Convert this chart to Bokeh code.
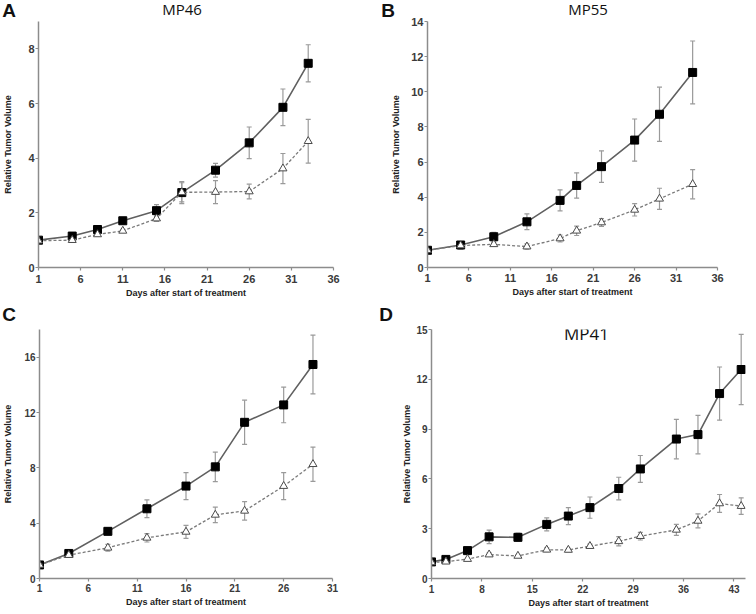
from bokeh.plotting import figure
from bokeh.models import Range1d, FixedTicker, Label, Whisker, TeeHead, ColumnDataSource, Div
from bokeh.layouts import column, row
from bokeh.embed import file_html
from bokeh.resources import INLINE

# ---------------- data ----------------
# Panel A  (MP46)
days_a = [1, 5, 8, 11, 15, 18, 22, 26, 30, 33]
control_a = [1.0, 1.15, 1.39, 1.71, 2.08, 2.74, 3.56, 4.56, 5.86, 7.47]
control_a_err = [0.03, 0.05, 0.06, 0.12, 0.22, 0.4, 0.25, 0.58, 0.67, 0.68]
treated_a = [0.98, 1.0, 1.21, 1.34, 1.79, 2.75, 2.76, 2.78, 3.62, 4.62]
treated_a_err = [0.03, 0.04, 0.05, 0.06, 0.1, 0.35, 0.42, 0.27, 0.55, 0.8]

# Panel B  (MP55)
days_b = [1, 5, 9, 13, 17, 19, 22, 26, 29, 33]
control_b = [0.98, 1.28, 1.75, 2.6, 3.82, 4.67, 5.74, 7.25, 8.72, 11.1]
control_b_err = [0.05, 0.1, 0.25, 0.45, 0.6, 0.72, 0.9, 1.2, 1.54, 1.79]
treated_b = [0.98, 1.25, 1.32, 1.19, 1.65, 2.09, 2.56, 3.28, 3.91, 4.74]
treated_b_err = [0.05, 0.2, 0.1, 0.15, 0.2, 0.27, 0.22, 0.35, 0.6, 0.83]

# Panel C  (MP34)
days_c = [1, 4, 8, 12, 16, 19, 22, 26, 29]
control_c = [0.98, 1.81, 3.41, 5.04, 6.68, 8.07, 11.29, 12.55, 15.47]
control_c_err = [0.03, 0.1, 0.24, 0.64, 0.98, 1.07, 1.6, 1.29, 2.13]
treated_c = [0.98, 1.69, 2.22, 2.94, 3.37, 4.6, 4.89, 6.68, 8.26]
treated_c_err = [0.03, 0.1, 0.24, 0.3, 0.47, 0.56, 0.67, 0.98, 1.24]

# Panel D  (MP41)
days_d = [1, 3, 6, 9, 13, 17, 20, 23, 27, 30, 35, 38, 41, 44]
control_d = [1.0, 1.15, 1.68, 2.51, 2.48, 3.26, 3.76, 4.27, 5.42, 6.6, 8.4, 8.67, 11.14, 12.59]
control_d_err = [0.04, 0.07, 0.1, 0.41, 0.25, 0.39, 0.51, 0.64, 0.68, 0.81, 1.19, 1.16, 1.6, 2.12]
treated_d = [0.97, 1.01, 1.17, 1.44, 1.36, 1.73, 1.72, 1.95, 2.24, 2.55, 2.93, 3.47, 4.52, 4.36]
treated_d_err = [0.03, 0.04, 0.06, 0.1, 0.07, 0.12, 0.1, 0.12, 0.28, 0.23, 0.33, 0.42, 0.54, 0.5]

# axis ticks
xticks_a = [1, 6, 11, 16, 21, 26, 31, 36]
yticks_a = [0, 2, 4, 6, 8]
xticks_b = [1, 6, 11, 16, 21, 26, 31, 36]
yticks_b = [0, 2, 4, 6, 8, 10, 12, 14]
xticks_c = [1, 6, 11, 16, 21, 26, 31]
yticks_c = [0, 4, 8, 12, 16]
xticks_d = [1, 8, 15, 22, 29, 36, 43]
yticks_d = [0, 3, 6, 9, 12, 15]

panel_titles = ["MP46", "MP55", "MP34", "MP41"]
panel_letters = ["A", "B", "C", "D"]
x_label = "Days after start of treatment"
y_label = "Relative Tumor Volume"

AXIS_COL = "#8c8c8c"
LABEL_COL = "#3a3a3a"


def make_panel(days, ctl, ctl_err, trt, trt_err, xr, yr, xticks, yticks,
               W, H, borders, tick_fs, y_std, x_tick_std, x_std):
    l, r, t, b = borders
    p = figure(width=W, height=H, output_backend="svg", toolbar_location=None,
               x_range=Range1d(*xr), y_range=Range1d(*yr),
               min_border_left=l, min_border_right=r,
               min_border_top=t, min_border_bottom=b)
    p.outline_line_color = None
    p.grid.visible = False
    p.background_fill_color = "white"
    p.border_fill_color = "white"

    for ax, ticks in ((p.xaxis[0], xticks), (p.yaxis[0], yticks)):
        ax.ticker = FixedTicker(ticks=ticks)
        ax.minor_tick_line_color = None
        ax.axis_line_color = AXIS_COL
        ax.axis_line_width = 1.5
        ax.major_tick_line_color = AXIS_COL
        ax.major_tick_line_width = 1.2
        ax.major_tick_in = 0
        ax.major_tick_out = 3
        ax.major_label_text_font = "Liberation Sans"
        ax.major_label_text_font_style = "bold"
        ax.major_label_text_font_size = tick_fs
        ax.major_label_text_color = LABEL_COL
        ax.axis_label_text_font = "Liberation Sans"
        ax.axis_label_text_font_style = "bold"
        ax.axis_label_text_font_size = "9px"
        ax.axis_label_text_color = "#222222"
    p.xaxis.axis_label = x_label
    p.yaxis.axis_label = y_label
    p.xaxis.major_label_standoff = x_tick_std
    p.xaxis.axis_label_standoff = x_std
    p.yaxis.major_label_standoff = 1
    p.yaxis.axis_label_standoff = y_std

    src_c = ColumnDataSource(dict(
        x=days, y=ctl,
        up=[v + e for v, e in zip(ctl, ctl_err)],
        lo=[v - e for v, e in zip(ctl, ctl_err)]))
    src_t = ColumnDataSource(dict(
        x=days, y=trt,
        up=[v + e for v, e in zip(trt, trt_err)],
        lo=[v - e for v, e in zip(trt, trt_err)]))

    for src in (src_c, src_t):
        w = Whisker(source=src, base="x", upper="up", lower="lo",
                    line_color="#9a9a9a", line_width=1.2, level="underlay",
                    upper_head=TeeHead(size=5, line_color="#9a9a9a", line_width=1.2),
                    lower_head=TeeHead(size=5, line_color="#9a9a9a", line_width=1.2))
        p.add_layout(w)

    # solid line with black squares
    p.line("x", "y", source=src_c, line_color="#606060", line_width=1.6)
    p.scatter("x", "y", source=src_c, marker="square", size=8,
              fill_color="black", line_color="black")
    # dotted line with open triangles
    p.line("x", "y", source=src_t, line_color="#7a7a7a", line_width=1.3,
           line_dash="3 2")
    p.scatter("x", "y", source=src_t, marker="triangle", size=8,
              fill_color="white", line_color="#4a4a4a", line_width=1)
    return p


pa = make_panel(days_a, control_a, control_a_err, treated_a, treated_a_err,
                (1, 36), (0, 9), xticks_a, yticks_a,
                378, 300, (37, 45, 20, 32), "11px", 12, 4, 2)
pb = make_panel(days_b, control_b, control_b_err, treated_b, treated_b_err,
                (1, 36), (0, 14), xticks_b, yticks_b,
                378, 300, (49, 39, 21, 31), "11px", 7, 3, 2)
pc = make_panel(days_c, control_c, control_c_err, treated_c, treated_c_err,
                (1, 31), (0, 18), xticks_c, yticks_c,
                378, 314, (37, 46, 29, 35), "10px", 8, 2, 2)
pd = make_panel(days_d, control_d, control_d_err, treated_d, treated_d_err,
                (1, 44.6), (0, 15), xticks_d, yticks_d,
                378, 314, (53, 11, 18, 36), "10px", 1, 3, 2)

# titles of C and D sit inside the plotting frame
pc.add_layout(Label(x=144, y=262, x_units="screen", y_units="screen",
                    text=panel_titles[2], text_font="Open Sans", text_font_size="15px",
                    text_color="#111111", text_align="center", text_baseline="middle"))
pd.add_layout(Label(x=155, y=245, x_units="screen", y_units="screen",
                    text=panel_titles[3], text_font="Open Sans", text_font_size="17px",
                    text_color="#111111", text_align="center", text_baseline="middle"))

# panel letters and the top titles lie outside the frames: overlay text layer
overlay_items = [
    (panel_letters[0], 9, 11, "'Liberation Sans'", "bold", 19),
    (panel_letters[1], 388, 11, "'Liberation Sans'", "bold", 19),
    (panel_letters[2], 9, 315, "'Liberation Sans'", "bold", 19),
    (panel_letters[3], 386, 315, "'Liberation Sans'", "bold", 19),
    (panel_titles[0], 182, 10, "'Open Sans'", "normal", 15),
    (panel_titles[1], 588, 10, "'Open Sans'", "normal", 15),
]
spans = []
for txt, cx, cy, fam, weight, size in overlay_items:
    spans.append(
        f'<div style="position:absolute;left:{cx}px;top:{cy}px;'
        f'transform:translate(-50%,-50%);font-family:{fam};font-weight:{weight};'
        f'font-size:{size}px;line-height:1.15;white-space:nowrap;color:#111">{txt}</div>')
html = ('<div style="position:relative;width:756px;height:614px;pointer-events:none">'
        + "".join(spans) + '</div>')
overlay = Div(text=html, width=756, height=614, margin=(-614, 0, 0, 0))

layout = column(row(pa, pb), row(pc, pd), overlay)

open("out.html", "w").write(file_html(layout, INLINE))
